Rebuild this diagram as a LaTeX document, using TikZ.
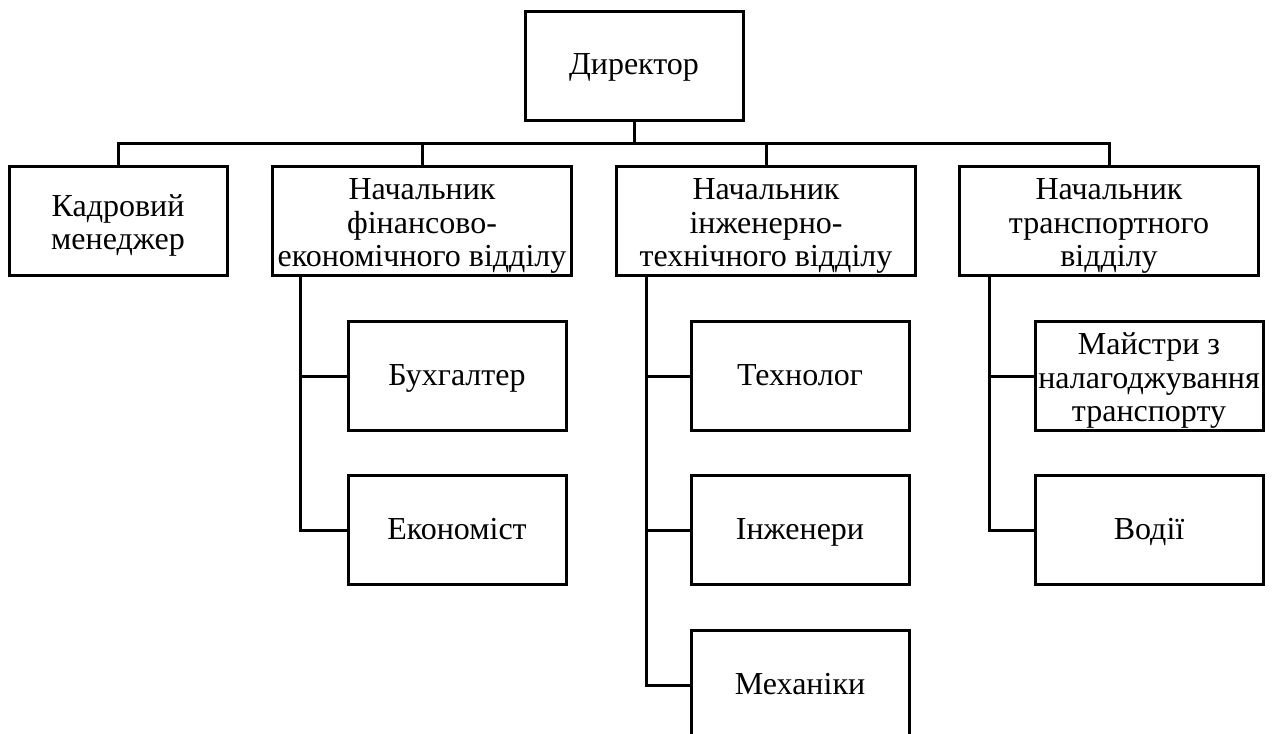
\documentclass[tikz,border=0pt]{standalone}
\usepackage{fontspec}
\setmainfont{Liberation Serif}
\usepackage{tikz}
\usetikzlibrary{positioning}
\newcommand{\toprow}{\rule{0pt}{15.5pt}}

\begin{document}
\begin{tikzpicture}[x=0.5pt, y=-0.5pt,
		box/.style={draw=black, line width=1.5pt, fill=white, align=center, inner xsep=1pt, inner ysep=0pt, minimum height=54.5pt, font=\fontsize{16}{16.8}\selectfont},
		narrow/.style={box, minimum width=109pt},
		wide/.style={box, minimum width=149.5pt},
		single/.style={text height=12pt, text depth=3pt},
		link/.style={black, line width=1.5pt}]
			\useasboundingbox (0,0) rectangle (1273,733);
			\clip (0,0) rectangle (1273,733);
			\node[narrow, single] (dir) at (634, 66) {Директор};
			\node[narrow] (kadr) at (118, 221) {\toprow Кадровий\\менеджер};
			\node[wide] (fin) at (422, 221) {\toprow Начальник\\фінансово-\\економічного відділу};
			\node[wide] (tech) at (766, 221) {\toprow Начальник\\інженерно-\\технічного відділу};
			\node[wide] (trans) at (1109, 221) {\toprow Начальник\\транспортного\\відділу};
			\node[narrow, single] (buh) at (457, 376) {Бухгалтер};
			\node[narrow, single] (econ) at (457, 530) {Економіст};
			\node[narrow, single] (techn) at (800, 376) {Технолог};
			\node[narrow, single] (inzh) at (800, 530) {Інженери};
			\node[narrow, single] (mech) at (800, 685) {Механіки};
			\node[narrow, minimum width=114pt] (maist) at (1149, 376) {\toprow Майстри з\\налагоджування\\транспорту};
			\node[narrow, single, minimum width=114pt] (vodii) at (1149, 530) {Водії};
			\coordinate (bus) at (634, 143);
			\draw[link] (dir.south) -- (bus);
			\draw[link] (kadr.north) |- (bus) -| (trans.north);
			\draw[link] (fin.north) -- (fin.north |- bus);
			\draw[link] (tech.north) -- (tech.north |- bus);
			\draw[link] ([xshift=14.5pt]fin.south west) |- (buh.west);
			\draw[link] ([xshift=14.5pt]fin.south west) |- (econ.west);
			\draw[link] ([xshift=15.5pt]tech.south west) |- (techn.west);
			\draw[link] ([xshift=15.5pt]tech.south west) |- (inzh.west);
			\draw[link] ([xshift=15.5pt]tech.south west) |- (mech.west);
			\draw[link] ([xshift=15.5pt]trans.south west) |- (maist.west);
			\draw[link] ([xshift=15.5pt]trans.south west) |- (vodii.west);
		\end{tikzpicture}
\end{document}
